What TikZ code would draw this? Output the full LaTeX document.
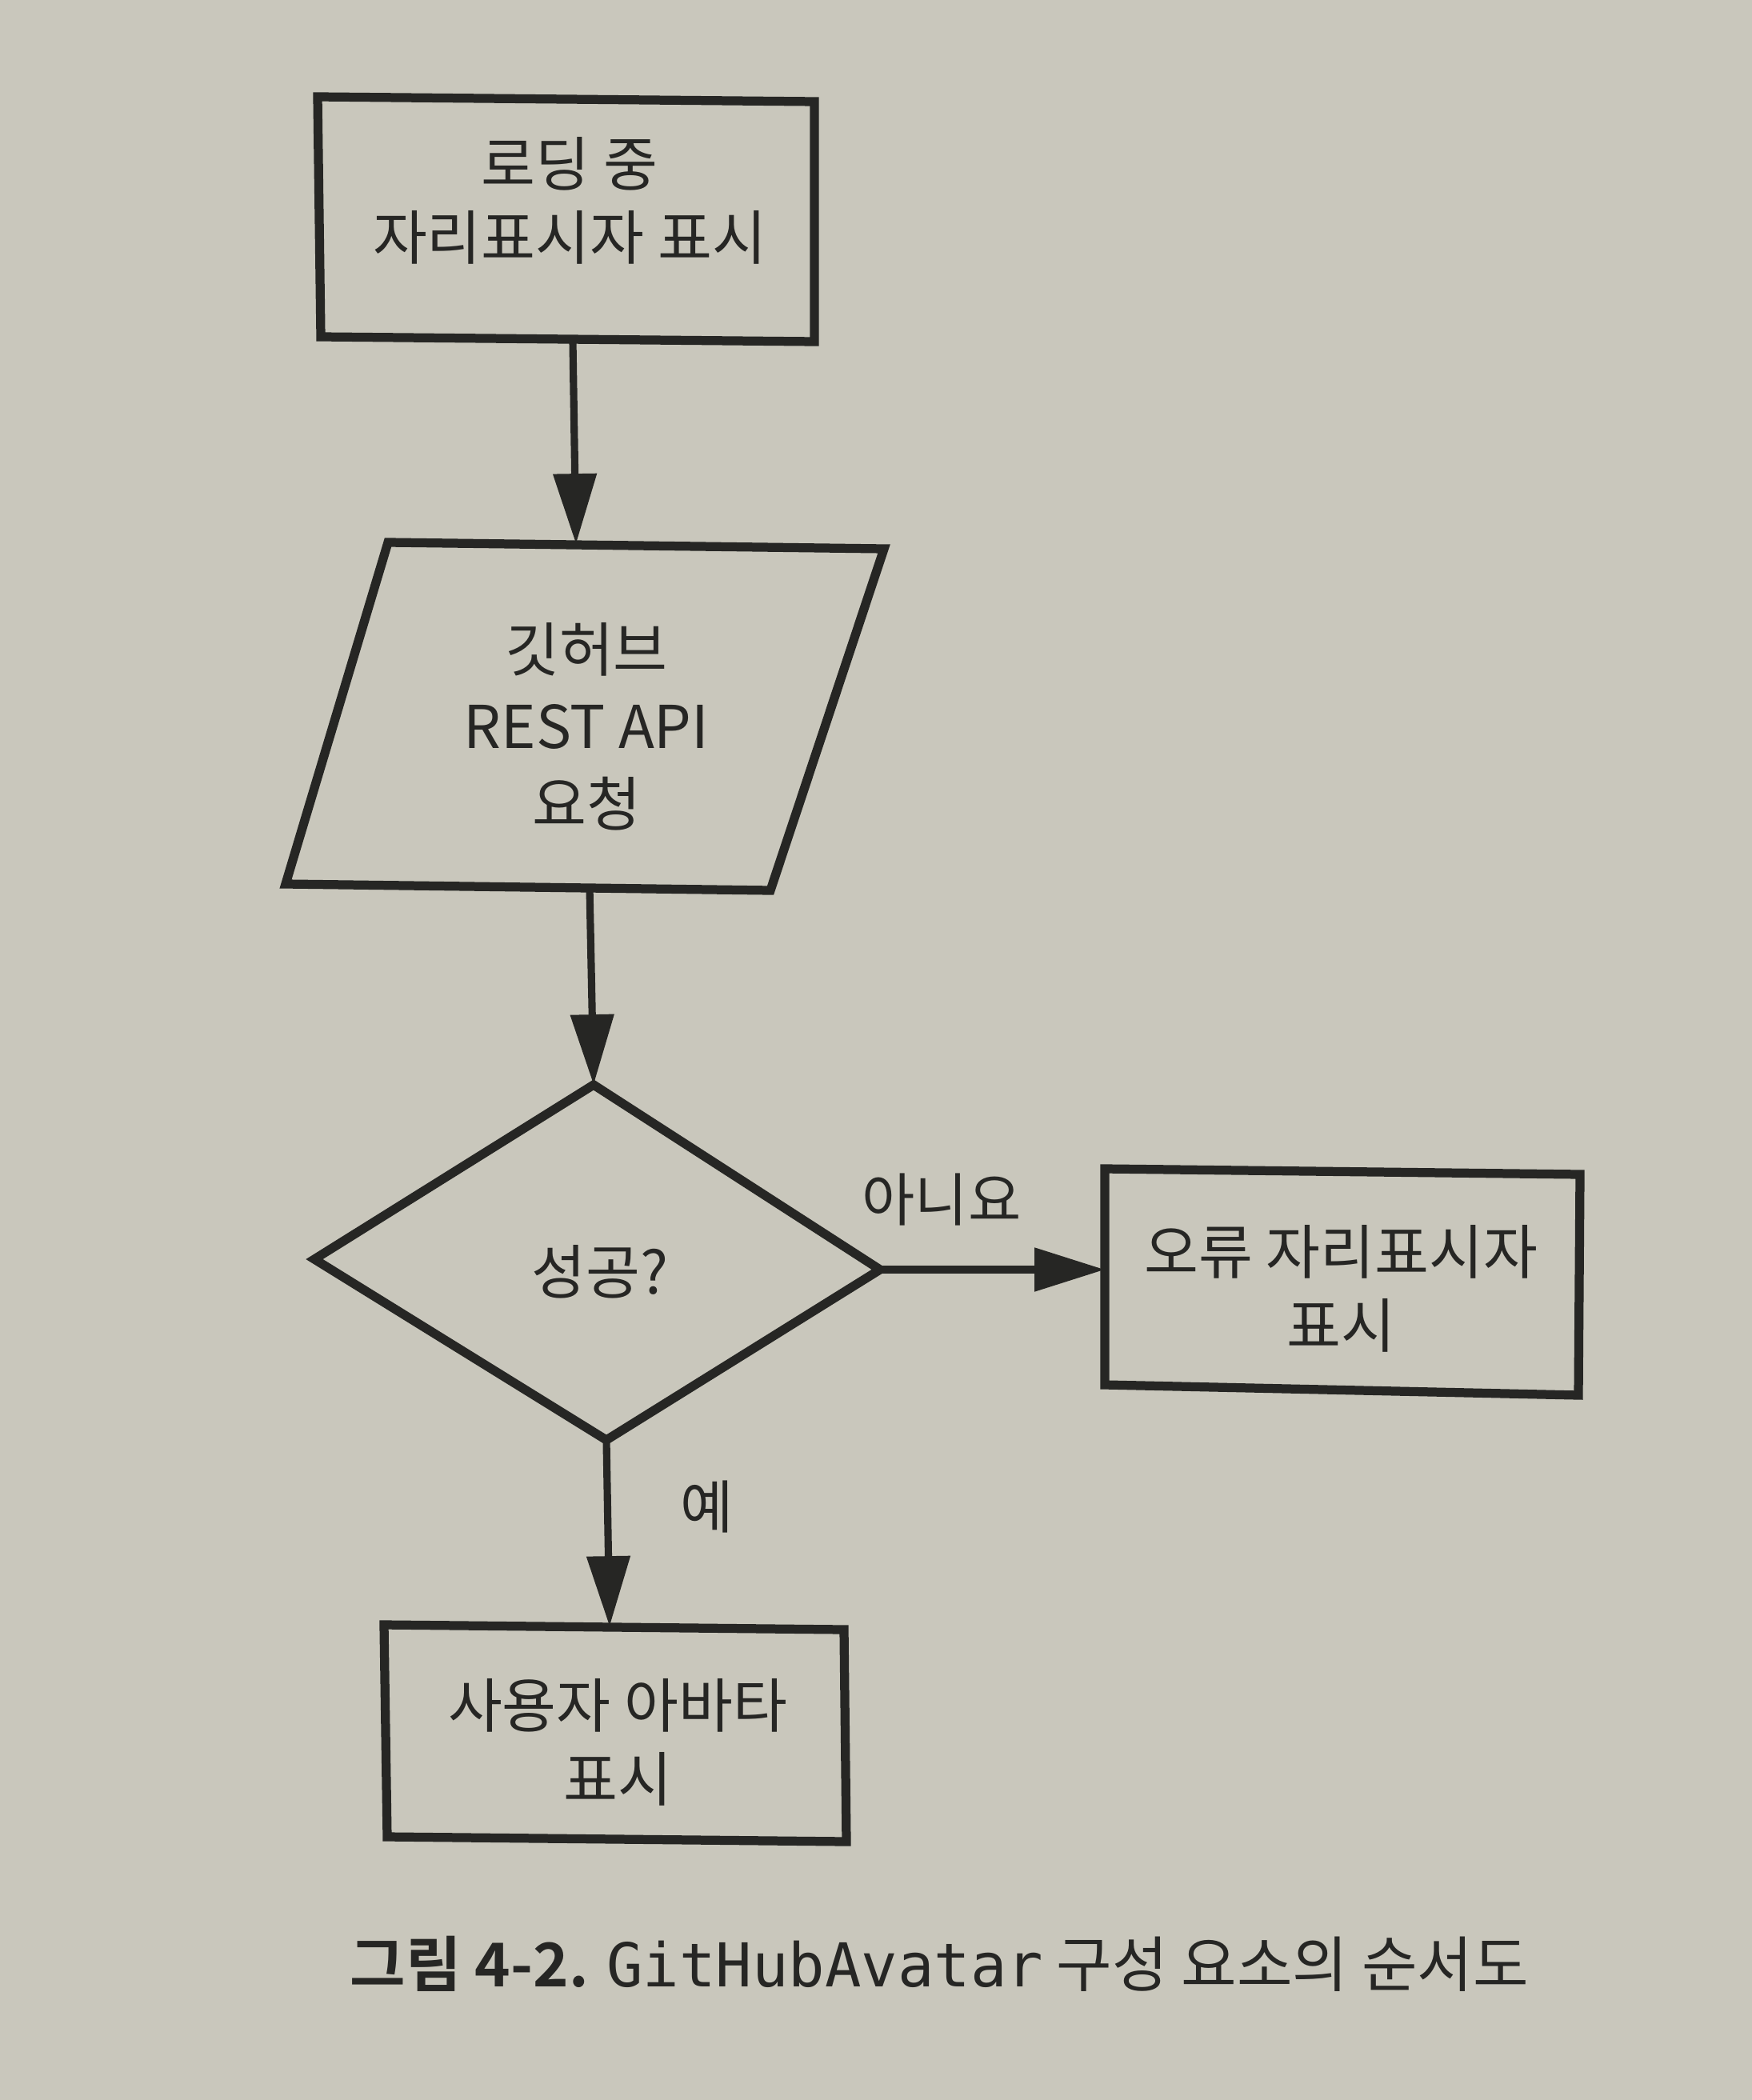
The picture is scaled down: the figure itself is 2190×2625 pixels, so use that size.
\documentclass[tikz,border=0pt]{standalone}
\usepackage{fontspec}
\setmainfont{Noto Sans CJK KR}
\newfontfamily\krbold{Noto Sans CJK KR Bold}
\newfontfamily\monof{DejaVu Sans Mono}
\usetikzlibrary{arrows.meta}
\definecolor{paper}{RGB}{201,199,188}
\definecolor{ink}{RGB}{38,38,36}
\tikzset{
  shapeline/.style={draw=ink, line width=3.2pt, line join=miter},
  arr/.style={draw=ink, line width=2.6pt, -{Triangle[length=25pt,width=15pt]}},
  txt/.style={font=\fontsize{21}{26}\selectfont, text=ink, align=center, inner sep=0pt},
  lbl/.style={font=\fontsize{20.5}{25}\selectfont, text=ink, inner sep=0pt}
}
\begin{document}
\begin{tikzpicture}[x=0.1mm,y=-0.1mm]
\fill[paper] (0,0) rectangle (2190,2625);
\useasboundingbox (0,0) rectangle (2190,2625);
% box 1
\coordinate (b1a) at (397,121); \coordinate (b1b) at (1018,127);
\coordinate (b1c) at (1018,427); \coordinate (b1d) at (401,421);
\draw[shapeline] (b1a) -- (b1b) -- (b1c) -- (b1d) -- cycle;
\node[txt] (t1) at (712,251) {로딩 중\\자리표시자 표시};
\coordinate (b1s) at (716,427);
% parallelogram
\coordinate (pa) at (485,678); \coordinate (pb) at (1105,686);
\coordinate (pc) at (963,1113); \coordinate (pd) at (357,1105);
\draw[shapeline] (pa) -- (pb) -- (pc) -- (pd) -- cycle;
\node[txt, font=\fontsize{21}{27.5}\selectfont] (t2) at (733,908) {깃허브\\REST API\\요청};
\coordinate (pn) at (720,680);
\coordinate (ps) at (737,1109);
% diamond
\coordinate (dn) at (742,1356); \coordinate (de) at (1100,1587);
\coordinate (ds) at (758,1800); \coordinate (dw) at (393,1574);
\draw[shapeline] (dn) -- (de) -- (ds) -- (dw) -- cycle;
\node[txt] (t3) at (750,1590) {성공?};
% box 3
\coordinate (b3a) at (1381,1461); \coordinate (b3b) at (1975,1468);
\coordinate (b3c) at (1973,1744); \coordinate (b3d) at (1381,1731);
\draw[shapeline] (b3a) -- (b3b) -- (b3c) -- (b3d) -- cycle;
\node[txt] (t4) at (1676,1611) {오류 자리표시자\\표시};
\coordinate (b3w) at (1381,1587);
% box 4
\coordinate (b4a) at (480,2031); \coordinate (b4b) at (1055,2037);
\coordinate (b4c) at (1058,2302); \coordinate (b4d) at (484,2296);
\draw[shapeline] (b4a) -- (b4b) -- (b4c) -- (b4d) -- cycle;
\node[txt] (t5) at (772,2178) {사용자 아바타\\표시};
\coordinate (b4n) at (762,2033);
% connectors
\draw[arr] (b1s) -- (pn);
\draw[arr] (ps) -- (dn);
\draw[arr] (de) -- (b3w);
\draw[arr] (ds) -- (b4n);
\node[lbl] (no) at (1177,1500) {아니요};
\node[lbl] (yes) at (884,1883) {예};
% caption
\node[anchor=west, inner sep=0pt, text=ink, font=\fontsize{21.5}{26}\selectfont] (cap) at (437,2455)
  {{\krbold 그림 4-2.} {\monof GitHubAvatar} 구성 요소의 순서도};
\end{tikzpicture}
\end{document}
